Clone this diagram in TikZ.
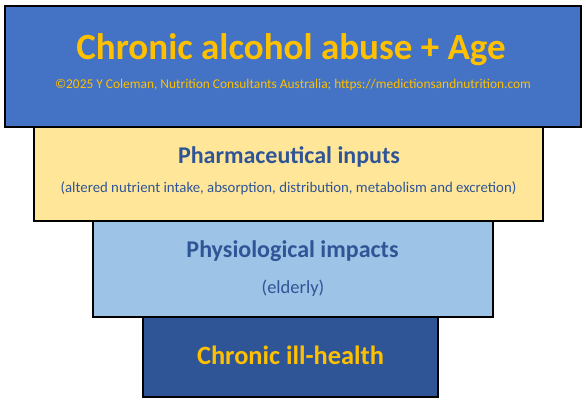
\documentclass[tikz,border=0pt]{standalone}
\usepackage{fontspec}
\setmainfont{Carlito}
\usepackage{xcolor}
\usetikzlibrary{calc,positioning}
\definecolor{color_top}{HTML}{4472C4}
\definecolor{color_gold}{HTML}{FFC000}
\definecolor{color_input}{HTML}{FFE699}
\definecolor{color_impact}{HTML}{9DC3E6}
\definecolor{color_health}{HTML}{2F5597}
\definecolor{color_text}{HTML}{2F5597}

\begin{document}
\begin{tikzpicture}[x=1pt,y=-1pt,
		layer/.style={draw=black,line width=1.1pt,inner sep=0pt},
		heading/.style={font=\bfseries,inner sep=0pt},
		note/.style={inner sep=0pt}]
				\useasboundingbox (0, 0) rectangle (586, 407);
				% Layers
				\node[layer,fill=color_top,minimum width=576pt,minimum height=121pt] (top) at (293, 66.5) {};
				\node[layer,fill=color_input,minimum width=509pt,minimum height=94pt] (input) at (288.5, 174) {};
				\node[layer,fill=color_impact,minimum width=400pt,minimum height=96pt] (impact) at (293, 269) {};
				\node[layer,fill=color_health,minimum width=295pt,minimum height=80pt] (health) at (290.5, 357) {};
				% redraw top edges so lower boxes sit below
				\draw[line width=1.1pt] (top.south west) -- (top.south east);
				\draw[line width=1.1pt] (input.south west) -- (input.south east);
				\draw[line width=1.1pt] (impact.south west) -- (impact.south east);
				
				% Texts
				\node[heading,color_gold,font=\fontsize{37}{40}\selectfont\bfseries] (title) at (291, 50) {Chronic alcohol abuse + Age};
				\node[note,color_gold,font=\fontsize{13.4}{15}\selectfont] (copy) at (293, 85) {©2025 Y Coleman, Nutrition Consultants Australia; https://medictionsandnutrition.com};
				\node[heading,color_text,font=\fontsize{24}{26}\selectfont\bfseries] (inputtitle) at (289, 157) {Pharmaceutical inputs};
				\node[note,color_text,font=\fontsize{14.8}{16}\selectfont] (inputnote) at (288.5, 188) {(altered nutrient intake, absorption, distribution, metabolism and excretion)};
				\node[heading,color_text,font=\fontsize{24}{26}\selectfont\bfseries] (impacttitle) at (292.5, 251) {Physiological impacts};
				\node[note,color_text,font=\fontsize{18.5}{20}\selectfont] (impactnote) at (293, 288.5) {(elderly)};
				\node[heading,color_gold,font=\fontsize{26.4}{28}\selectfont\bfseries] (healthtitle) at (290.5, 355) {Chronic ill-health};
			\end{tikzpicture}
\end{document}
